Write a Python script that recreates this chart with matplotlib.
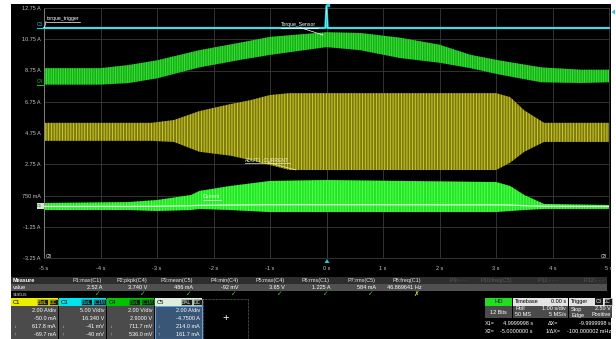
import numpy as np
import matplotlib.pyplot as plt
from matplotlib.patches import Rectangle, Polygon

plt.rcParams['font.family'] = ['Liberation Sans', 'DejaVu Sans']
plt.rcParams['hatch.linewidth'] = 0.6

W, H = 616, 339

# grid labels
x_ticks = [-5, -4, -3, -2, -1, 0, 1, 2, 3, 4, 5]
x_labels = ["-5 s", "-4 s", "-3 s", "-2 s", "-1 s", "0 s", "1 s", "2 s", "3 s", "4 s", "5 s"]
y_ticks = [12.75, 10.75, 8.75, 6.75, 4.75, 2.75, 0.75, -1.25, -3.25]
y_labels = ["12.75 A", "10.75 A", "8.75 A", "6.75 A", "4.75 A", "2.75 A", "750 mA", "-1.25 A", "-3.25 A"]

# C3 torque trigger (flat with a spike at the trigger point)
c3_t = [-5.0, -0.02, 0.0, 0.02, 5.0]
c3_v = [11.47, 11.47, 12.90, 11.47, 11.47]

# C4 torque sensor envelope
c4_t = [-5.0, -4.0, -3.5, -3.0, -2.25, -1.5, -1.0, 0.0, 0.6, 1.3, 2.0, 2.55, 3.05, 3.8, 4.5, 5.0]
c4_hi = [8.90, 8.90, 9.10, 9.40, 10.05, 10.55, 10.90, 11.20, 11.15, 10.85, 10.40, 9.75, 9.40, 8.95, 8.80, 8.80]
c4_lo = [7.85, 7.85, 7.95, 8.25, 8.95, 9.45, 9.75, 10.25, 10.05, 9.55, 9.25, 8.90, 8.50, 8.00, 7.95, 8.00]

# C1 DUT1 current envelope
c1_t = [-5.0, -3.1, -2.7, -2.25, -1.7, -1.35, -1.0, -0.65, 3.0, 3.25, 3.5, 3.85, 5.0]
c1_hi = [5.40, 5.40, 5.58, 6.15, 6.60, 6.85, 7.18, 7.30, 7.30, 7.05, 6.20, 5.40, 5.40]
c1_lo = [4.25, 4.25, 4.18, 3.55, 3.30, 3.02, 2.70, 2.38, 2.38, 2.85, 3.55, 4.18, 4.18]

# C5 current envelope
c5_t = [-5.0, -3.5, -3.0, -2.4, -2.25, -1.7, -1.0, 0.0, 3.0, 3.25, 3.5, 3.85, 5.0]
c5_hi = [0.27, 0.33, 0.46, 0.78, 1.04, 1.36, 1.68, 1.74, 1.61, 1.36, 0.78, 0.21, 0.14]
c5_lo = [-0.18, -0.18, -0.24, -0.18, -0.11, -0.18, -0.31, -0.31, -0.31, -0.24, -0.18, -0.11, -0.11]
c5_mid = [0.05, 0.05, 0.06, 0.10, 0.12, 0.14, 0.16, 0.16, 0.15, 0.14, 0.10, 0.06, 0.05]

# measurement table
meas_names = ["P1:max(C1)", "P2:pkpk(C4)", "P3:mean(C5)", "P4:min(C4)", "P5:max(C4)", "P6:rms(C1)",
              "P7:rms(C5)", "P8:freq(C1)", "P9:- - -", "P10:freq(C5)", "P11:- - -", "P12:- - -"]
meas_values = ["2.52 A", "3.740 V", "486 mA", "-92 mV", "3.65 V", "1.225 A", "584 mA", "46.869641 Hz",
               "", "", "", ""]
meas_status = ["✓", "✓", "✓", "✓", "✓", "✓", "✓", "✗", "", "", "", ""]

# channel descriptors
ch_names = ["C1", "C3", "C4", "C5"]
ch_colors = ["#eeee00", "#00e4ee", "#00c400", "#dcefdc"]
ch_tags = [("BwL", "DC"), ("BwL", "DC1M"), ("BwL", "DC1M"), ("BAL", "DC")]
ch_scale = ["2.00 A/div", "5.00 V/div", "2.00 V/div", "2.00 A/div"]
ch_offset = ["-50.0 mA", "16.340 V", "2.9000 V", "-4.7500 A"]
ch_down = ["617.8 mA", "-41 mV", "711.7 mV", "214.0 mA"]
ch_up = ["-69.7 mA", "-40 mV", "536.0 mV", "161.7 mA"]

fig = plt.figure(figsize=(W / 100, H / 100), dpi=100, facecolor="white")

# pixel-space layer for the instrument panel
ui = fig.add_axes([0, 0, 1, 1], zorder=0)
ui.set_xlim(0, W)
ui.set_ylim(H, 0)
ui.axis("off")
ui.add_patch(Rectangle((11, 4), 600, 335, fc="black", lw=0))

ax = fig.add_axes([44 / W, 1 - 258 / H, (609 - 44) / W, (258 - 8) / H], zorder=1)
ax.set_facecolor("black")
ax.set_xlim(-5, 5)
ax.set_ylim(-3.25, 12.75)
ax.set_xticks(x_ticks, x_labels)
ax.set_yticks(y_ticks, y_labels)
ax.tick_params(length=0, labelsize=4.0, colors="#c4c4c4")
ax.tick_params(axis="x", pad=5.5)
ax.tick_params(axis="y", pad=2.5)
ax.grid(color="#3a3a3a", lw=0.6)
ax.set_axisbelow(True)
for name, sp in ax.spines.items():
    sp.set_color("#3a3a3a")
    sp.set_linewidth(0.6)
ax.spines["left"].set_color("#8a8a8a")
ax.axvline(0, color="#8c8c8c", lw=0.6, ls=(0, (1, 1.5)), zorder=0.5)

# traces
ax.fill_between(c1_t, c1_lo, c1_hi, facecolor="#7e7b0e", edgecolor="#d6d232",
                hatch="||||||", lw=0, zorder=2)
ax.fill_between(c4_t, c4_lo, c4_hi, facecolor="#16b016", edgecolor="#40e640",
                hatch="|||||||", lw=0, zorder=2)
ax.fill_between(c5_t, c5_lo, c5_hi, facecolor="#22e622", edgecolor="#5cff5c",
                hatch="||||||", lw=0, zorder=2)
ax.plot(c5_t, c5_mid, color="#d6ffd6", lw=0.9, zorder=3)
ax.plot(c3_t, c3_v, color="#20cdd8", lw=1.6, zorder=4, clip_on=False)
ax.plot(c3_t, c3_v, color="#b0f6fa", lw=0.4, zorder=4, clip_on=False)
ax.plot([0.03], [12.95], marker="s", ms=2, color="#20cdd8", clip_on=False, zorder=5)

# labels and markers drawn above the grid
top = fig.add_axes([0, 0, 1, 1], zorder=2)
top.set_xlim(0, W)
top.set_ylim(H, 0)
top.axis("off")


def txt(a, x, y, s, color="white", size=4.0, ha="left", weight="normal"):
    a.text(x, y, s, color=color, fontsize=size, ha=ha, va="center", fontweight=weight)


def box(a, x, y, w, h, fc, ec="none", lw=0, ls="-"):
    a.add_patch(Rectangle((x, y), w, h, fc=fc, ec=ec, lw=lw, ls=ls))


# trace annotations
txt(top, 47, 18.5, "torque_trigger", size=3.7)
top.plot([46, 80], [21.5, 21.5], color="white", lw=0.5)
top.plot([46, 44.5], [21.5, 28], color="white", lw=0.5)
txt(top, 281, 24.5, "Torque_Sensor", size=3.7)
top.plot([281, 318], [27.5, 27.5], color="white", lw=0.5)
top.plot([300, 323], [27.5, 35], color="white", lw=0.5)
txt(top, 245, 160, "ADUT1_CURRENT", size=3.7, color="#f0f0c0")
top.plot([245, 290], [162.5, 162.5], color="#e8e8c0", lw=0.5)
top.plot([268, 296], [162.5, 170], color="#e8e8c0", lw=0.5)
txt(top, 203, 197, "Current", size=3.7, color="#e0ffe0")
top.plot([203, 221], [199.5, 199.5], color="#e0ffe0", lw=0.5)

# channel position markers on the left edge
txt(top, 37, 24.5, "C3", color="#20cdd8", size=3.3)
top.plot([37, 44], [27.5, 27.5], color="#20cdd8", lw=0.8)
txt(top, 37, 81.5, "C4", color="#18c018", size=3.3)
top.plot([37, 44], [85, 85], color="#18c018", lw=0.8)
box(top, 36.5, 203, 7.5, 6, "#cfe8cf")
txt(top, 37.2, 206, "C5", color="#205020", size=2.8)
txt(top, 46, 256.5, "C8", size=3.3)
txt(top, 601, 256.5, "C8", size=3.3)
top.add_patch(Polygon([[324.5, 263], [329.5, 263], [327, 259]], closed=True, fc="#20cdd8", lw=0))
top.add_patch(Polygon([[615, 9.5], [615, 14.5], [611.5, 12]], closed=True, fc="#20cdd8", lw=0))

# measurement table
box(ui, 11, 277, 596, 7, "#2e2e2e")
box(ui, 11, 284, 596, 6.5, "#505050")
txt(ui, 13, 280.5, "Measure", weight="bold")
txt(ui, 13, 287.3, "value")
txt(ui, 13, 294, "status", color="#b0b0b0")
for i, (n, v, s) in enumerate(zip(meas_names, meas_values, meas_status)):
    xr = 102 + 45.6 * i
    dim = i >= 8
    txt(ui, xr, 280.5, n, ha="right", color="#5a5a5a" if dim else "#e8e8e8")
    if v:
        txt(ui, xr, 287.3, v, ha="right")
    if s:
        ui.text(xr - 2, 294, s, color="#44cc33" if s == "✓" else "#e0e040",
                fontsize=4.8, ha="right", va="center", family="DejaVu Sans", fontweight="bold")

# channel descriptor boxes
for i, name in enumerate(ch_names):
    x0 = 11 + 48 * i
    w = 47
    if name == "C5":
        box(ui, x0, 306, w, 33, "#3a5676", ec="#5fa0e0", lw=0.8)
    else:
        box(ui, x0, 306, w, 33, "#4b4b4b")
    box(ui, x0, 298, w, 8, ch_colors[i])
    txt(ui, x0 + 2, 302, name, color="black", size=4.2)
    t1, t2 = ch_tags[i]
    w2 = 9 if t2 == "DC" else 13
    tag_col = ch_colors[i] if name != "C5" else "#dcefdc"
    box(ui, x0 + w - w2 - 0.5, 298.8, w2, 6.5, "#1a1a1a", ec=tag_col, lw=0.4)
    txt(ui, x0 + w - w2 / 2 - 0.5, 302, t2, color=tag_col, size=3.5, ha="center")
    box(ui, x0 + w - w2 - 12.5, 298.8, 11.5, 6.5, "#1a1a1a", ec=tag_col, lw=0.4)
    txt(ui, x0 + w - w2 - 6.75, 302, t1, color=tag_col, size=3.5, ha="center")
    xr = x0 + w - 2
    txt(ui, xr, 310.5, ch_scale[i], ha="right")
    txt(ui, xr, 318, ch_offset[i], ha="right")
    txt(ui, xr, 327, ch_down[i], ha="right")
    txt(ui, xr, 334, ch_up[i], ha="right")
    txt(ui, x0 + 2, 327, "↓", color="#c8c8c8", size=3.8)
    txt(ui, x0 + 2, 334, "↑", color="#c8c8c8", size=3.8)

box(ui, 203, 298.5, 45, 40, "black", ec="#8a8a8a", lw=0.5, ls=(0, (1, 1)))
txt(ui, 225.5, 318, "+", size=8, ha="center")

# acquisition status
box(ui, 485, 297.5, 27, 8, "#22dd22")
txt(ui, 498.5, 301.5, "HD", color="#0a2a0a", size=4.2, ha="center")
box(ui, 485, 305.5, 27, 12.5, "#4b4b4b")
txt(ui, 498.5, 312, "12 Bits", ha="center")

box(ui, 513, 297.5, 55, 8, "#e4e4e4")
txt(ui, 515, 301.5, "Timebase", color="black")
txt(ui, 566, 301.5, "0.00 s", color="black", ha="right")
box(ui, 513, 305.5, 55, 12.5, "#4b4b4b")
txt(ui, 515, 309, "Roll")
txt(ui, 566, 309, "1.00 s/div", ha="right")
txt(ui, 515, 315, "50 MS")
txt(ui, 566, 315, "5 MS/s", ha="right")

box(ui, 569, 297.5, 43, 8, "#e4e4e4")
txt(ui, 571, 301.5, "Trigger", color="black")
box(ui, 595, 298.3, 8, 6.5, "#1a1a1a")
txt(ui, 599, 301.5, "C3", size=3.3, ha="center")
box(ui, 603.5, 298.3, 8, 6.5, "#1a1a1a", ec="#e4e4e4", lw=0.4)
txt(ui, 607.5, 301.5, "DC", size=3.3, ha="center")
box(ui, 569, 305.5, 43, 12.5, "#4b4b4b")
txt(ui, 571, 309, "Stop")
txt(ui, 611, 309, "2.50 V", ha="right")
txt(ui, 571, 315, "Edge")
txt(ui, 611, 315, "Positive", ha="right")

# cursor readouts
txt(ui, 485, 323.5, "X1=")
txt(ui, 533, 323.5, "4.9999998 s", ha="right")
txt(ui, 548, 323.5, "ΔX=")
txt(ui, 611, 323.5, "-9.9999998 s", ha="right")
txt(ui, 485, 331.5, "X2=")
txt(ui, 533, 331.5, "-5.0000000 s", ha="right")
txt(ui, 546, 331.5, "1/ΔX=")
txt(ui, 611, 331.5, "-100.000002 mHz", ha="right")

fig.savefig("out.png", dpi=100, facecolor="white")
